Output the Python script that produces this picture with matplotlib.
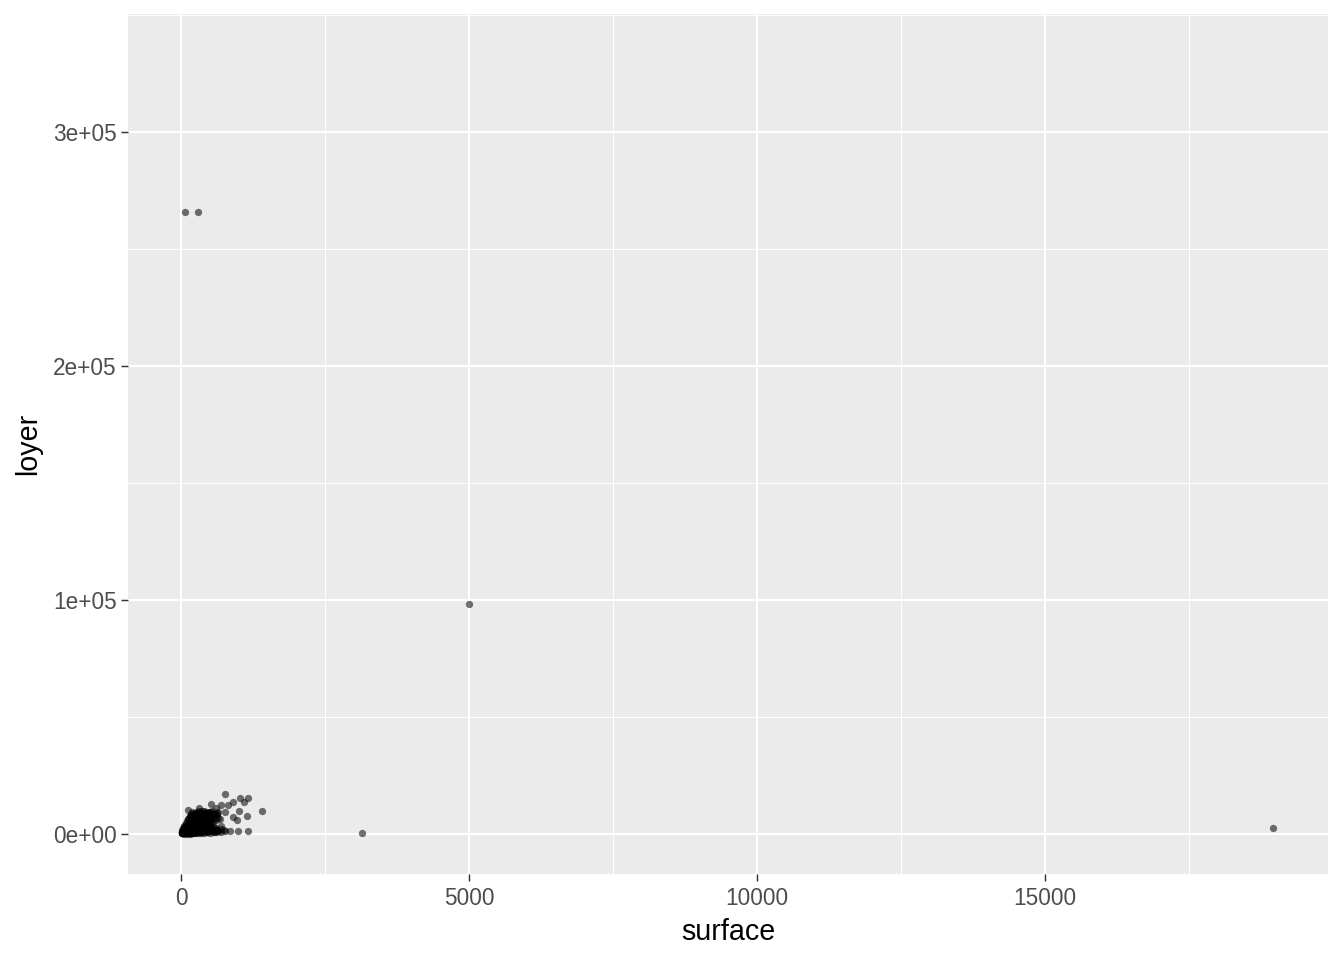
import matplotlib
matplotlib.use('Agg')
import matplotlib.pyplot as plt
from matplotlib.ticker import MultipleLocator, FuncFormatter

# surface (m2) and loyer (rent)
surface = [
    15, 18, 20, 22, 25, 28, 30, 32, 35, 38, 40, 42, 45, 48, 50, 55, 60, 65, 70, 75,
    80, 85, 90, 95, 100, 110, 120, 130, 140, 150, 160, 170, 180, 200, 220, 250, 280, 300,
    10, 12, 25, 30, 40, 50, 60, 70, 80, 100, 120, 150, 180, 200,
    60, 80, 100, 150, 200, 250, 300, 350, 400, 300, 350, 400, 450, 500, 350, 250,
    400, 450, 500, 550, 600, 650, 500, 600, 700, 650, 700, 550, 450, 350,
    116, 313, 515, 600, 694, 764, 822, 897, 908, 966, 1007, 1140, 1400,
    764, 1024, 1157, 1094, 590, 764, 851, 995, 1169, 620, 680, 540, 480,
    # dense core
    20, 40, 60, 80, 100, 120, 140, 160, 180, 200, 220, 240, 260, 280, 300, 320, 340, 360, 380, 400,
    30, 50, 70, 90, 110, 130, 150, 170, 190, 210, 230, 250, 270, 290, 310, 330, 350, 370, 390, 410,
    50, 75, 100, 125, 150, 175, 200, 225, 250, 275, 300, 325, 350, 375, 400, 425, 450, 475, 500, 525,
    100, 130, 160, 190, 220, 250, 280, 310, 340, 370, 400, 430, 460, 490, 520, 550, 580,
    150, 180, 210, 240, 270, 300, 330, 360, 390, 420, 450, 480, 510, 540, 570, 600, 630,
    200, 230, 260, 290, 320, 350, 380, 410, 440, 470, 500, 530, 560, 590, 620, 650,
    120, 160, 200, 240, 280, 320, 360, 400, 440, 480, 520, 560, 600,
    180, 220, 260, 300, 340, 380, 420, 460, 500, 540, 580,
    150, 200, 250, 300, 350, 400, 450, 500, 550, 600, 650, 700, 750,
    69, 295, 5000, 3142, 18958,
]
loyer = [
    500, 600, 650, 700, 800, 850, 900, 1000, 1050, 1100, 1200, 1250, 1300, 1400, 1500, 1600, 1700, 1900, 2000, 2200,
    2400, 2500, 2700, 2800, 3000, 3300, 3600, 4000, 4200, 4500, 4800, 5200, 5500, 6000, 6500, 7000, 8000, 8500,
    300, 400, 1500, 1800, 2500, 3000, 3500, 4000, 4500, 5500, 6500, 7500, 8500, 9500,
    800, 1000, 1500, 2000, 2500, 3000, 3500, 4000, 4500, 6000, 7000, 8000, 9000, 9500, 9000, 9000,
    2000, 3000, 4000, 5000, 6000, 7000, 1500, 2500, 3500, 1200, 2000, 800, 700, 600,
    10256, 10983, 12678, 11000, 12393, 9530, 12393, 13547, 7400, 5983, 9957, 7820, 9957,
    17094, 15385, 15385, 13675, 1000, 1280, 1280, 1280, 1280, 8000, 6500, 10000, 9000,
    # dense core
    700, 1300, 1900, 2400, 2900, 3400, 3900, 4300, 4800, 5200, 5600, 6000, 6400, 6800, 7200, 7500, 7800, 8100, 8400, 8700,
    400, 700, 1000, 1400, 1800, 2200, 2600, 3000, 3400, 3800, 4200, 4600, 5000, 5400, 5800, 6100, 6400, 6700, 7000, 7300,
    200, 300, 500, 700, 900, 1100, 1300, 1600, 1900, 2200, 2500, 2800, 3100, 3400, 3700, 4000, 4300, 4600, 4900, 5200,
    150, 250, 350, 500, 650, 800, 950, 1100, 1300, 1500, 1700, 1900, 2100, 2300, 2500, 2700, 2900,
    300, 400, 500, 600, 700, 800, 900, 1000, 1100, 1200, 1300, 1400, 1500, 1600, 1700, 1800, 1900,
    2000, 2500, 3000, 3500, 4000, 4500, 5000, 5500, 6000, 6500, 7000, 7500, 8000, 8500, 9000, 9500,
    6500, 7500, 8500, 9000, 9500, 10000, 10000, 9800, 9500, 9200, 8800, 8400, 8000,
    5000, 5800, 6600, 7400, 8200, 9000, 8600, 8000, 7400, 6800, 6200,
    200, 400, 600, 500, 700, 400, 900, 600, 1100, 800, 1300, 1000, 1500,
    265800, 265800, 98300, 430, 2560,
]

plt.rcParams['font.family'] = ['Liberation Sans', 'DejaVu Sans']

fig = plt.figure(figsize=(14, 10), dpi=96)
ax = fig.add_axes([0.0952, 0.0896, 0.8929, 0.8958])
ax.set_facecolor('#EBEBEB')

ax.scatter(surface, loyer, s=30, color='black', alpha=0.55, linewidths=0, zorder=3)

ax.set_xlim(-920, 19913)
ax.set_ylim(-17100, 350400)
ax.xaxis.set_major_locator(MultipleLocator(5000))
ax.xaxis.set_minor_locator(MultipleLocator(2500))
ax.yaxis.set_major_locator(MultipleLocator(100000))
ax.yaxis.set_minor_locator(MultipleLocator(50000))
ax.yaxis.set_major_formatter(FuncFormatter(lambda v, p: '%de+05' % round(v / 1e5) if v else '0e+00'))
ax.xaxis.set_major_formatter(FuncFormatter(lambda v, p: '%d' % v))

ax.grid(which='major', color='white', linewidth=1.6, zorder=1)
ax.grid(which='minor', color='white', linewidth=0.8, zorder=1)
ax.set_axisbelow(True)
for s in ax.spines.values():
    s.set_visible(False)

ax.tick_params(which='major', length=5.5, width=1.1, color='#333333',
               labelcolor='#4D4D4D', labelsize=17, pad=4)
ax.tick_params(axis='y', which='major', pad=3)
ax.tick_params(which='minor', length=0)

ax.set_xlabel('surface', fontsize=21.5, labelpad=6)
ax.set_ylabel('loyer', fontsize=21.5, labelpad=8)

fig.savefig('out.png', dpi=96)
